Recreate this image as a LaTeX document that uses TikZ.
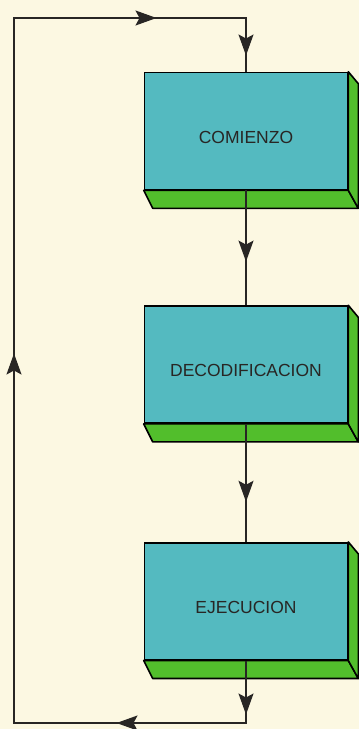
\documentclass[tikz,border=0pt]{standalone}
\usepackage{fontspec}
\setmainfont{Liberation Sans}
\usetikzlibrary{positioning, arrows.meta, decorations.markings}
\definecolor{paper}{RGB}{252, 248, 226}
\definecolor{faceteal}{RGB}{84, 186, 192}
\definecolor{slabgreen}{RGB}{82, 190, 44}
\definecolor{ink}{RGB}{40, 38, 36}
\tikzset{
    flowtip/.tip={Stealth[length=21pt, width=15pt, inset=4pt]},
    midflow/.style={decoration={markings, mark=at position #1 with {\arrow{flowtip}}}, postaction=decorate}
}
\begin{document}
\begin{tikzpicture}[
    x=1pt,
    y=-1pt,
    % -------------------------------------------------
    % Node styles
    % -------------------------------------------------
    stage/.style={
        rectangle,
        draw=black,
        line width=1.6pt,
        fill=faceteal,
        minimum width=203pt,
        minimum height=117pt,
        inner sep=0pt
    },
    stagelabel/.style={
        yshift=-6pt,
        text=ink,
        font=\fontsize{17.5}{20}\selectfont
    },
    slab/.style={
        draw=black,
        line width=1.6pt,
        line join=round,
        fill=slabgreen
    },
    % -------------------------------------------------
    % Connections
    % -------------------------------------------------
    flow/.style={
        draw=ink,
        line width=1.4pt
    }
]

\fill[paper] (0,0) rectangle (359,729);
\useasboundingbox (0,0) rectangle (359,729);

% =====================================================
% Stages
% =====================================================

\node[stage, label={[stagelabel]center:COMIENZO}] at (246,131) (comienzo) {};

\node[stage, label={[stagelabel]center:DECODIFICACION},
      below=115pt of comienzo] (decod) {};

\node[stage, label={[stagelabel]center:EJECUCION},
      below=118pt of decod] (ejec) {};

% =====================================================
% Green sides
% =====================================================

\foreach \n in {comienzo, decod, ejec} {
    \filldraw[slab] (\n.south west) -- (\n.south east)
        -- ([shift={(10pt,-18pt)}]\n.south east)
        -- ([shift={(9pt,-18pt)}]\n.south west) -- cycle;
    \filldraw[slab] (\n.north east) -- ([shift={(10pt,-12pt)}]\n.north east)
        -- ([shift={(10pt,-18pt)}]\n.south east) -- (\n.south east) -- cycle;
}

% =====================================================
% Main flow
% =====================================================

\draw[flow, midflow=0.62]
    (comienzo.south) -- (decod.north);

\draw[flow, midflow=0.66]
    (decod.south) -- (ejec.north);

% =====================================================
% Loop back
% =====================================================

\coordinate (loopbr) at (246,723);
\coordinate (loopbl) at (14,723);
\coordinate (looptl) at (14,18);
\coordinate (looptr) at (246,18);

\draw[flow, line join=miter,
      decoration={markings,
        mark=at position 54pt with {\arrow{flowtip}},
        mark=at position 192pt with {\arrow{flowtip}},
        mark=at position 664pt with {\arrow{flowtip}},
        mark=at position 1142pt with {\arrow{flowtip}},
        mark=at position 1269pt with {\arrow{flowtip}}},
      postaction=decorate]
    (ejec.south) -- (loopbr) -- (loopbl) -- (looptl) -- (looptr) -- (comienzo.north);

\end{tikzpicture}
\end{document}
